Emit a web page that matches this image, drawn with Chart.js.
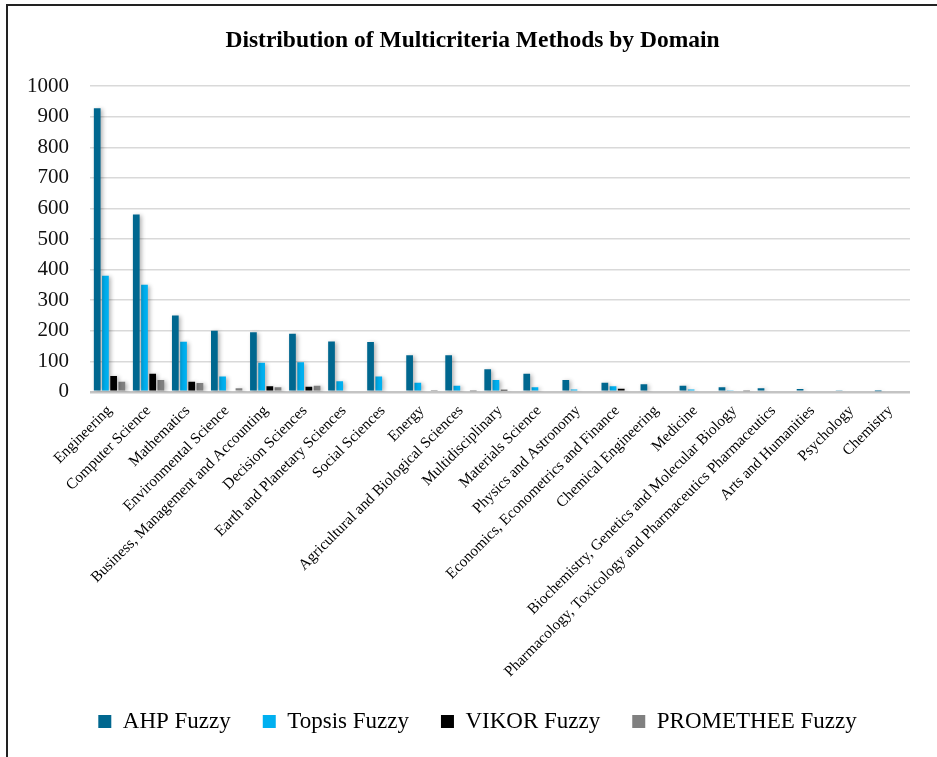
<!DOCTYPE html>
<html>

<head>
  <title>Distribution of Multicriteria Methods by Domain</title>
  <script src="https://cdn.jsdelivr.net/npm/chart.js"></script>
  <style>
    body { margin: 0; background: #fff; }
    #wrap { position: relative; width: 937px; height: 757px; }
    #frame {
      position: absolute; left: 6px; top: 4px; right: 0; bottom: 0;
      border-left: 2px solid #222; border-top: 2px solid #222;
      pointer-events: none;
    }
  </style>
</head>

<body>
  <div id="wrap">
    <canvas id="domainChart" width="937" height="757"></canvas>
    <div id="frame"></div>
  </div>

  <script>
    const domains = [
      'Engineering', 'Computer Science', 'Mathematics', 'Environmental Science',
      'Business, Management and Accounting', 'Decision Sciences', 'Earth and Planetary Sciences',
      'Social Sciences', 'Energy', 'Agricultural and Biological Sciences', 'Multidisciplinary',
      'Materials Science', 'Physics and Astronomy', 'Economics, Econometrics and Finance',
      'Chemical Engineering', 'Medicine', 'Biochemistry, Genetics and Molecular Biology',
      'Pharmacology, Toxicology and Pharmaceutics Pharmaceutics', 'Arts and Humanities',
      'Psychology', 'Chemistry'
    ];
    const ahpFuzzy = [928, 580, 250, 200, 195, 190, 165, 163, 120, 120, 74, 59, 39, 30, 25, 20, 15, 12, 9, 5, 2];
    const topsisFuzzy = [380, 350, 164, 50, 95, 97, 35, 50, 30, 20, 39, 15, 8, 18, 0, 8, 5, 0, 0, 0, 0];
    const vikorFuzzy = [52, 59, 33, 4, 18, 17, 0, 4, 0, 0, 7, 0, 0, 10, 0, 0, 0, 0, 0, 0, 0];
    const prometheeFuzzy = [33, 39, 29, 12, 15, 20, 0, 4, 3, 2, 0, 0, 0, 0, 0, 0, 2, 0, 0, 0, 0];
    const yTicks = [0, 100, 200, 300, 400, 500, 600, 700, 800, 900, 1000];

    const serif = "'Liberation Serif', 'DejaVu Serif', serif";

    // title and legend sit a little right of the page centre in the original
    const shiftBoxes = {
      id: 'shiftBoxes',
      afterLayout(chart) {
        chart.titleBlock.left += 14;
        chart.titleBlock.right += 14;
        chart.legend.left += 19;
        chart.legend.right += 19;
      }
    };

    // soft drop shadow under the bars
    const barShadow = {
      id: 'barShadow',
      beforeDatasetsDraw(chart) {
        const c = chart.ctx;
        c.save();
        c.shadowColor = 'rgba(0, 0, 0, 0.3)';
        c.shadowBlur = 4;
        c.shadowOffsetX = 2;
        c.shadowOffsetY = 1;
      },
      afterDatasetsDraw(chart) {
        chart.ctx.restore();
      }
    };

    const ctx = document.getElementById('domainChart').getContext('2d');
    const domainChart = new Chart(ctx, {
      type: 'bar',
      data: {
        labels: domains,
        datasets: [
          { label: 'AHP Fuzzy', data: ahpFuzzy, backgroundColor: '#00678F' },
          { label: 'Topsis Fuzzy', data: topsisFuzzy, backgroundColor: '#00B0F0' },
          { label: 'VIKOR Fuzzy', data: vikorFuzzy, backgroundColor: '#000000' },
          { label: 'PROMETHEE Fuzzy', data: prometheeFuzzy, backgroundColor: '#808080' }
        ]
      },
      options: {
        responsive: false,
        animation: false,
        datasets: {
          bar: { categoryPercentage: 0.84, barPercentage: 0.82 }
        },
        layout: {
          padding: { left: 7, right: 27, top: 0, bottom: 14 }
        },
        scales: {
          x: {
            grid: { display: false },
            border: { display: false },
            afterFit: function (scale) { scale.height -= 5; },
            ticks: {
              autoSkip: false,
              minRotation: 45,
              maxRotation: 45,
              color: '#000',
              padding: 2,
              font: { family: serif, size: 15.3 }
            }
          },
          y: {
            min: 0,
            max: 1000,
            afterBuildTicks: function (scale) {
              scale.ticks = yTicks.map(v => ({ value: v }));
            },
            afterFit: function (scale) { scale.width = 83; },
            border: { display: false },
            grid: {
              drawTicks: false,
              color: function (c) { return c.tick.value === 0 ? '#c4c4c4' : '#d9d9d9'; },
              lineWidth: function (c) { return c.tick.value === 0 ? 2.5 : 1.5; }
            },
            ticks: {
              color: '#111',
              padding: 21,
              font: { family: serif, size: 21 },
              callback: function (value) { return String(value); }
            }
          }
        },
        plugins: {
          title: {
            display: true,
            text: 'Distribution of Multicriteria Methods by Domain',
            color: '#000',
            font: { family: serif, size: 23.5, weight: 'bold' },
            padding: { top: 27, bottom: 31 }
          },
          legend: {
            position: 'bottom',
            labels: {
              color: '#000',
              boxWidth: 13,
              boxHeight: 13,
              padding: 32,
              font: { family: serif, size: 23 }
            }
          },
          tooltip: { enabled: false }
        }
      },
      plugins: [shiftBoxes, barShadow]
    });
  </script>
</body>

</html>
